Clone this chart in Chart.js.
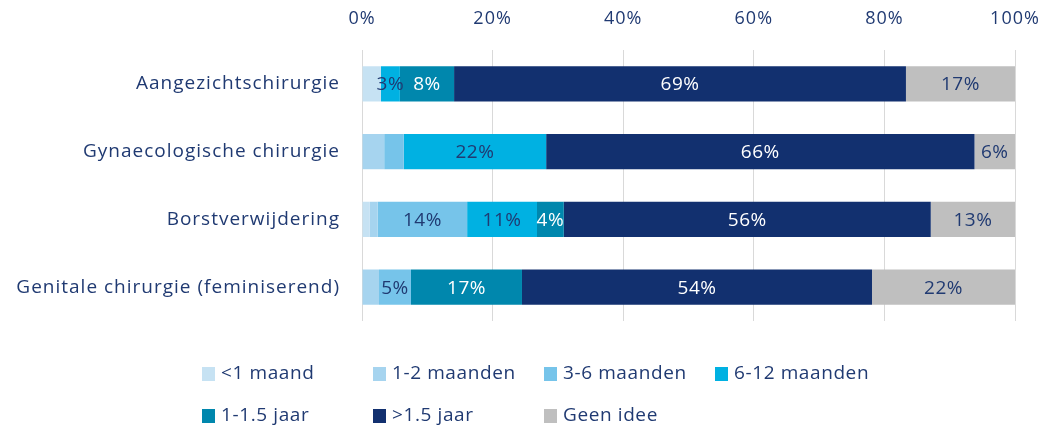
<!DOCTYPE html>
<html>
<head>
<meta charset="utf-8">
<script src="https://cdn.jsdelivr.net/npm/chart.js@4.4.1/dist/chart.umd.min.js"></script>
<style>
  html, body { margin: 0; padding: 0; background: #fff; }
  #wrap { width: 1043px; height: 432px; position: relative; }
</style>
</head>
<body>
<div id="wrap"><canvas id="chart"></canvas></div>
<script>
// ─── Data ─────────────────────────────────────────────────────────────────────

const categories = [
  'Aangezichtschirurgie',
  'Gynaecologische chirurgie',
  'Borstverwijdering',
  'Genitale chirurgie (feminiserend)',
];

const seriesNames = ['<1 maand', '1-2 maanden', '3-6 maanden', '6-12 maanden', '1-1.5 jaar', '>1.5 jaar', 'Geen idee'];

const lessThan1Month = [2.9, 0, 1.2, 0];
const months1to2     = [0, 3.4, 1.2, 2.6];
const months3to6     = [0, 3.0, 13.7, 4.9];
const months6to12    = [2.9, 21.8, 10.7, 0];
const years1to15     = [8.3, 0, 4.1, 17.0];
const moreThan15     = [69.2, 65.6, 56.2, 53.6];
const noIdea         = [16.7, 6.2, 12.9, 21.9];

const xTicks = [0, 20, 40, 60, 80, 100];

// which segments carry a value label (small ones are left bare)
const showLabels = [
  [false, false, false, false],
  [false, false, false, false],
  [false, false, true, true],
  [true, true, true, false],
  [true, false, true, true],
  [true, true, true, true],
  [true, true, true, true],
];

// ─── Styling ──────────────────────────────────────────────────────────────────

const NAVY_TEXT = '#203a72';
const FONT = "'Open Sans', 'Noto Sans', sans-serif";
const FONT_SIZE = 19;
const colors = ['#c6e2f3', '#a6d4ef', '#76c4ea', '#00b1e2', '#0087ad', '#12306f', '#bfbfbf'];
const labelColors = [NAVY_TEXT, NAVY_TEXT, NAVY_TEXT, NAVY_TEXT, '#ffffff', '#ffffff', NAVY_TEXT];

const seriesData = [lessThan1Month, months1to2, months3to6, months6to12, years1to15, moreThan15, noIdea];

// ─── Plugins ──────────────────────────────────────────────────────────────────

// the original text is slightly spaced out
const spacing = {
  id: 'spacing',
  beforeDraw(chart) { chart.ctx.letterSpacing = '1px'; },
};

const segmentLabels = {
  id: 'segmentLabels',
  afterDatasetsDraw(chart) {
    const { ctx } = chart;
    ctx.save();
    ctx.font = `${FONT_SIZE}px ${FONT}`;
    ctx.letterSpacing = '0.5px';
    ctx.textAlign = 'center';
    ctx.textBaseline = 'middle';
    chart.data.datasets.forEach((ds, di) => {
      chart.getDatasetMeta(di).data.forEach((bar, i) => {
        if (!showLabels[di][i] || !ds.data[i]) return;
        const cx = (bar.x + bar.base) / 2;
        ctx.fillStyle = labelColors[di];
        ctx.fillText(Math.round(ds.data[i]) + '%', cx, bar.y + 1);
      });
    });
    ctx.restore();
  }
};

const gridLegend = {
  id: 'gridLegend',
  afterDraw(chart) {
    const { ctx } = chart;
    const colW = 171, x0 = 202, rows = [374, 416];
    ctx.save();
    ctx.font = `${FONT_SIZE}px ${FONT}`;
    ctx.letterSpacing = '0.6px';
    ctx.textBaseline = 'middle';
    ctx.textAlign = 'left';
    chart.data.datasets.forEach((ds, i) => {
      const col = i % 4, row = Math.floor(i / 4);
      const x = x0 + col * colW, y = rows[row];
      ctx.fillStyle = ds.backgroundColor;
      ctx.fillRect(x, y - 7, 13, 14);
      ctx.fillStyle = NAVY_TEXT;
      ctx.fillText(ds.label, x + 19, y);
    });
    ctx.restore();
  }
};

// ─── Chart ────────────────────────────────────────────────────────────────────

new Chart(document.getElementById('chart'), {
  type: 'bar',
  data: {
    labels: categories,
    datasets: seriesNames.map((name, i) => ({
      label: name,
      data: seriesData[i],
      backgroundColor: colors[i],
      borderWidth: 0,
      barPercentage: 0.52,
      categoryPercentage: 1,
    })),
  },
  options: {
    indexAxis: 'y',
    responsive: true,
    maintainAspectRatio: false,
    animation: false,
    layout: { padding: { top: 0, right: 28, bottom: 111, left: 0 } },
    plugins: {
      legend: { display: false },
      tooltip: { enabled: false },
    },
    scales: {
      x: {
        stacked: true,
        position: 'top',
        min: 0,
        max: 100,
        afterBuildTicks: s => { s.ticks = xTicks.map(v => ({ value: v })); },
        afterFit: s => { s.height = 50; s.paddingLeft = 0; s.paddingRight = 0; },
        grid: { color: '#d9d9d9', drawTicks: false },
        border: { display: false },
        ticks: {
          font: { family: FONT, size: 18 },
          color: NAVY_TEXT,
          padding: 20,
          callback: v => v + '%',
        },
      },
      y: {
        stacked: true,
        afterFit: s => { s.width = 362; },
        grid: { display: false, drawTicks: false },
        border: { display: false },
        ticks: {
          font: { family: FONT, size: FONT_SIZE },
          color: NAVY_TEXT,
          padding: 22,
        },
      },
    },
  },
  plugins: [spacing, segmentLabels, gridLegend],
});
</script>
</body>
</html>
